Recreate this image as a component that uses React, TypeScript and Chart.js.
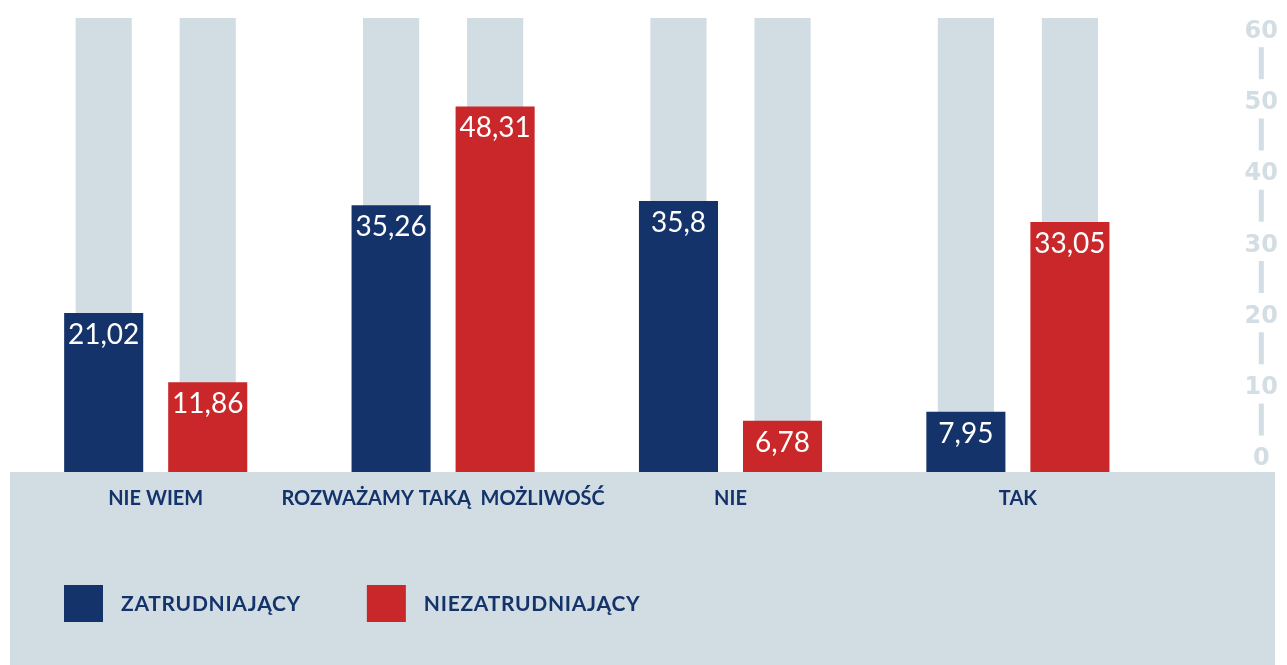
import React, { useEffect, useRef } from "react";
import { Chart, registerables } from "chart.js";

Chart.register(...registerables);

const categories = ["NIE WIEM", "ROZWAŻAMY TAKĄ  MOŻLIWOŚĆ", "NIE", "TAK"];
const seriesNames = ["ZATRUDNIAJĄCY", "NIEZATRUDNIAJĄCY"];
const zatrudniajacy = [21.02, 35.26, 35.8, 7.95];
const niezatrudniajacy = [11.86, 48.31, 6.78, 33.05];
const backgroundMax = [60, 60, 60, 60];
const yTickValues = [0, 10, 20, 30, 40, 50, 60];

const NAVY = "#14336a";
const RED = "#c9272a";
const GRAY = "#d2dde3";
const TICK_GRAY = "#d3dde4";

const fmt = (v: number) => String(v).replace(".", ",");

const decorPlugin = {
  id: "decor",
  beforeDraw(chart: any) {
    const { ctx, chartArea } = chart;
    ctx.save();
    ctx.fillStyle = GRAY;
    const left = chartArea.left - 2;
    ctx.fillRect(left, chartArea.bottom, chart.width - 12 - left, chart.height - chartArea.bottom);
    ctx.restore();
  },
  afterDatasetsDraw(chart: any) {
    const { ctx } = chart;
    ctx.save();
    ctx.fillStyle = "#ffffff";
    ctx.font = "400 28px Lato";
    ctx.textAlign = "center";
    ctx.textBaseline = "middle";
    chart.data.datasets.forEach((ds: any, i: number) => {
      if (!seriesNames.includes(ds.label)) return;
      const meta = chart.getDatasetMeta(i);
      meta.data.forEach((el: any, j: number) => {
        ctx.fillText(fmt(ds.data[j]), el.x, el.y + 22);
      });
    });
    ctx.restore();
  },
  afterDraw(chart: any) {
    const { ctx, chartArea } = chart;
    ctx.save();
    // axis segments between tick labels
    const y2 = chart.scales.y2;
    ctx.font = "bold 24px 'DejaVu Sans'";
    const widest = Math.max(...yTickValues.map((v) => ctx.measureText(String(v)).width));
    const sx = y2.right - y2.options.ticks.padding - widest / 2;
    ctx.fillStyle = TICK_GRAY;
    for (let i = 0; i < yTickValues.length - 1; i++) {
      const p1 = y2.getPixelForValue(yTickValues[i]);
      const p2 = y2.getPixelForValue(yTickValues[i + 1]);
      const mid = (p1 + p2) / 2 - 4;
      ctx.fillRect(sx - 2.5, mid - 16, 5, 32);
    }
    // legend
    let x = chartArea.left + 52;
    const boxTop = chartArea.bottom + 113;
    ctx.font = "bold 21px Lato";
    try {
      (ctx as any).letterSpacing = "0.7px";
    } catch (e) {}
    ctx.textBaseline = "middle";
    ctx.textAlign = "left";
    const colors = [NAVY, RED];
    seriesNames.forEach((name, i) => {
      ctx.fillStyle = colors[i];
      ctx.fillRect(x, boxTop, 39, 37);
      const tx = x + 39 + 18;
      ctx.fillStyle = NAVY;
      ctx.fillText(name, tx, boxTop + 19);
      x = tx + ctx.measureText(name).width + 66;
    });
    ctx.restore();
  },
};

export default function App() {
  const canvasRef = useRef<HTMLCanvasElement | null>(null);

  useEffect(() => {
    document.body.style.margin = "0";
    const canvas = canvasRef.current;
    if (!canvas) return;
    const chart = new Chart(canvas, {
      type: "bar",
      data: {
        labels: categories,
        datasets: [
          {
            label: "bg1",
            data: backgroundMax,
            backgroundColor: GRAY,
            stack: "a",
            order: 2,
            barPercentage: 0.54,
            categoryPercentage: 0.724,
          },
          {
            label: "bg2",
            data: backgroundMax,
            backgroundColor: GRAY,
            stack: "b",
            order: 2,
            barPercentage: 0.54,
            categoryPercentage: 0.724,
          },
          {
            label: seriesNames[0],
            data: zatrudniajacy,
            backgroundColor: NAVY,
            stack: "a",
            order: 1,
            barPercentage: 0.76,
            categoryPercentage: 0.724,
          },
          {
            label: seriesNames[1],
            data: niezatrudniajacy,
            backgroundColor: RED,
            stack: "b",
            order: 1,
            barPercentage: 0.76,
            categoryPercentage: 0.724,
          },
        ],
      },
      options: {
        animation: false,
        responsive: true,
        maintainAspectRatio: false,
        events: [],
        layout: { padding: { left: 12, top: 18, right: 6, bottom: 139 } },
        plugins: { legend: { display: false }, tooltip: { enabled: false } },
        scales: {
          x: {
            grid: { display: false, drawTicks: false },
            border: { display: false },
            ticks: {
              color: NAVY,
              font: { family: "Lato", weight: "bold", size: 20 },
              padding: 15,
              maxRotation: 0,
              autoSkip: false,
            },
          },
          y: {
            display: false,
            stacked: false,
            min: 0,
            max: 60,
          },
          y2: {
            position: "right",
            min: -1.8,
            max: 61.9,
            grid: { display: true, drawOnChartArea: false, drawTicks: true, tickLength: 80, color: "rgba(0,0,0,0)" },
            border: { display: false },
            afterBuildTicks: (axis: any) => {
              axis.ticks = yTickValues.map((v) => ({ value: v }));
            },
            ticks: {
              color: TICK_GRAY,
              font: { family: "DejaVu Sans", weight: "bold", size: 24 },
              padding: 3,
              crossAlign: "center",
              callback: (v: any) => String(v),
            },
          },
        },
      },
      plugins: [decorPlugin],
    } as any);
    return () => chart.destroy();
  }, []);

  return (
    <div style={{ position: "relative", width: 1287, height: 665 }}>
      <canvas ref={canvasRef} />
    </div>
  );
}
